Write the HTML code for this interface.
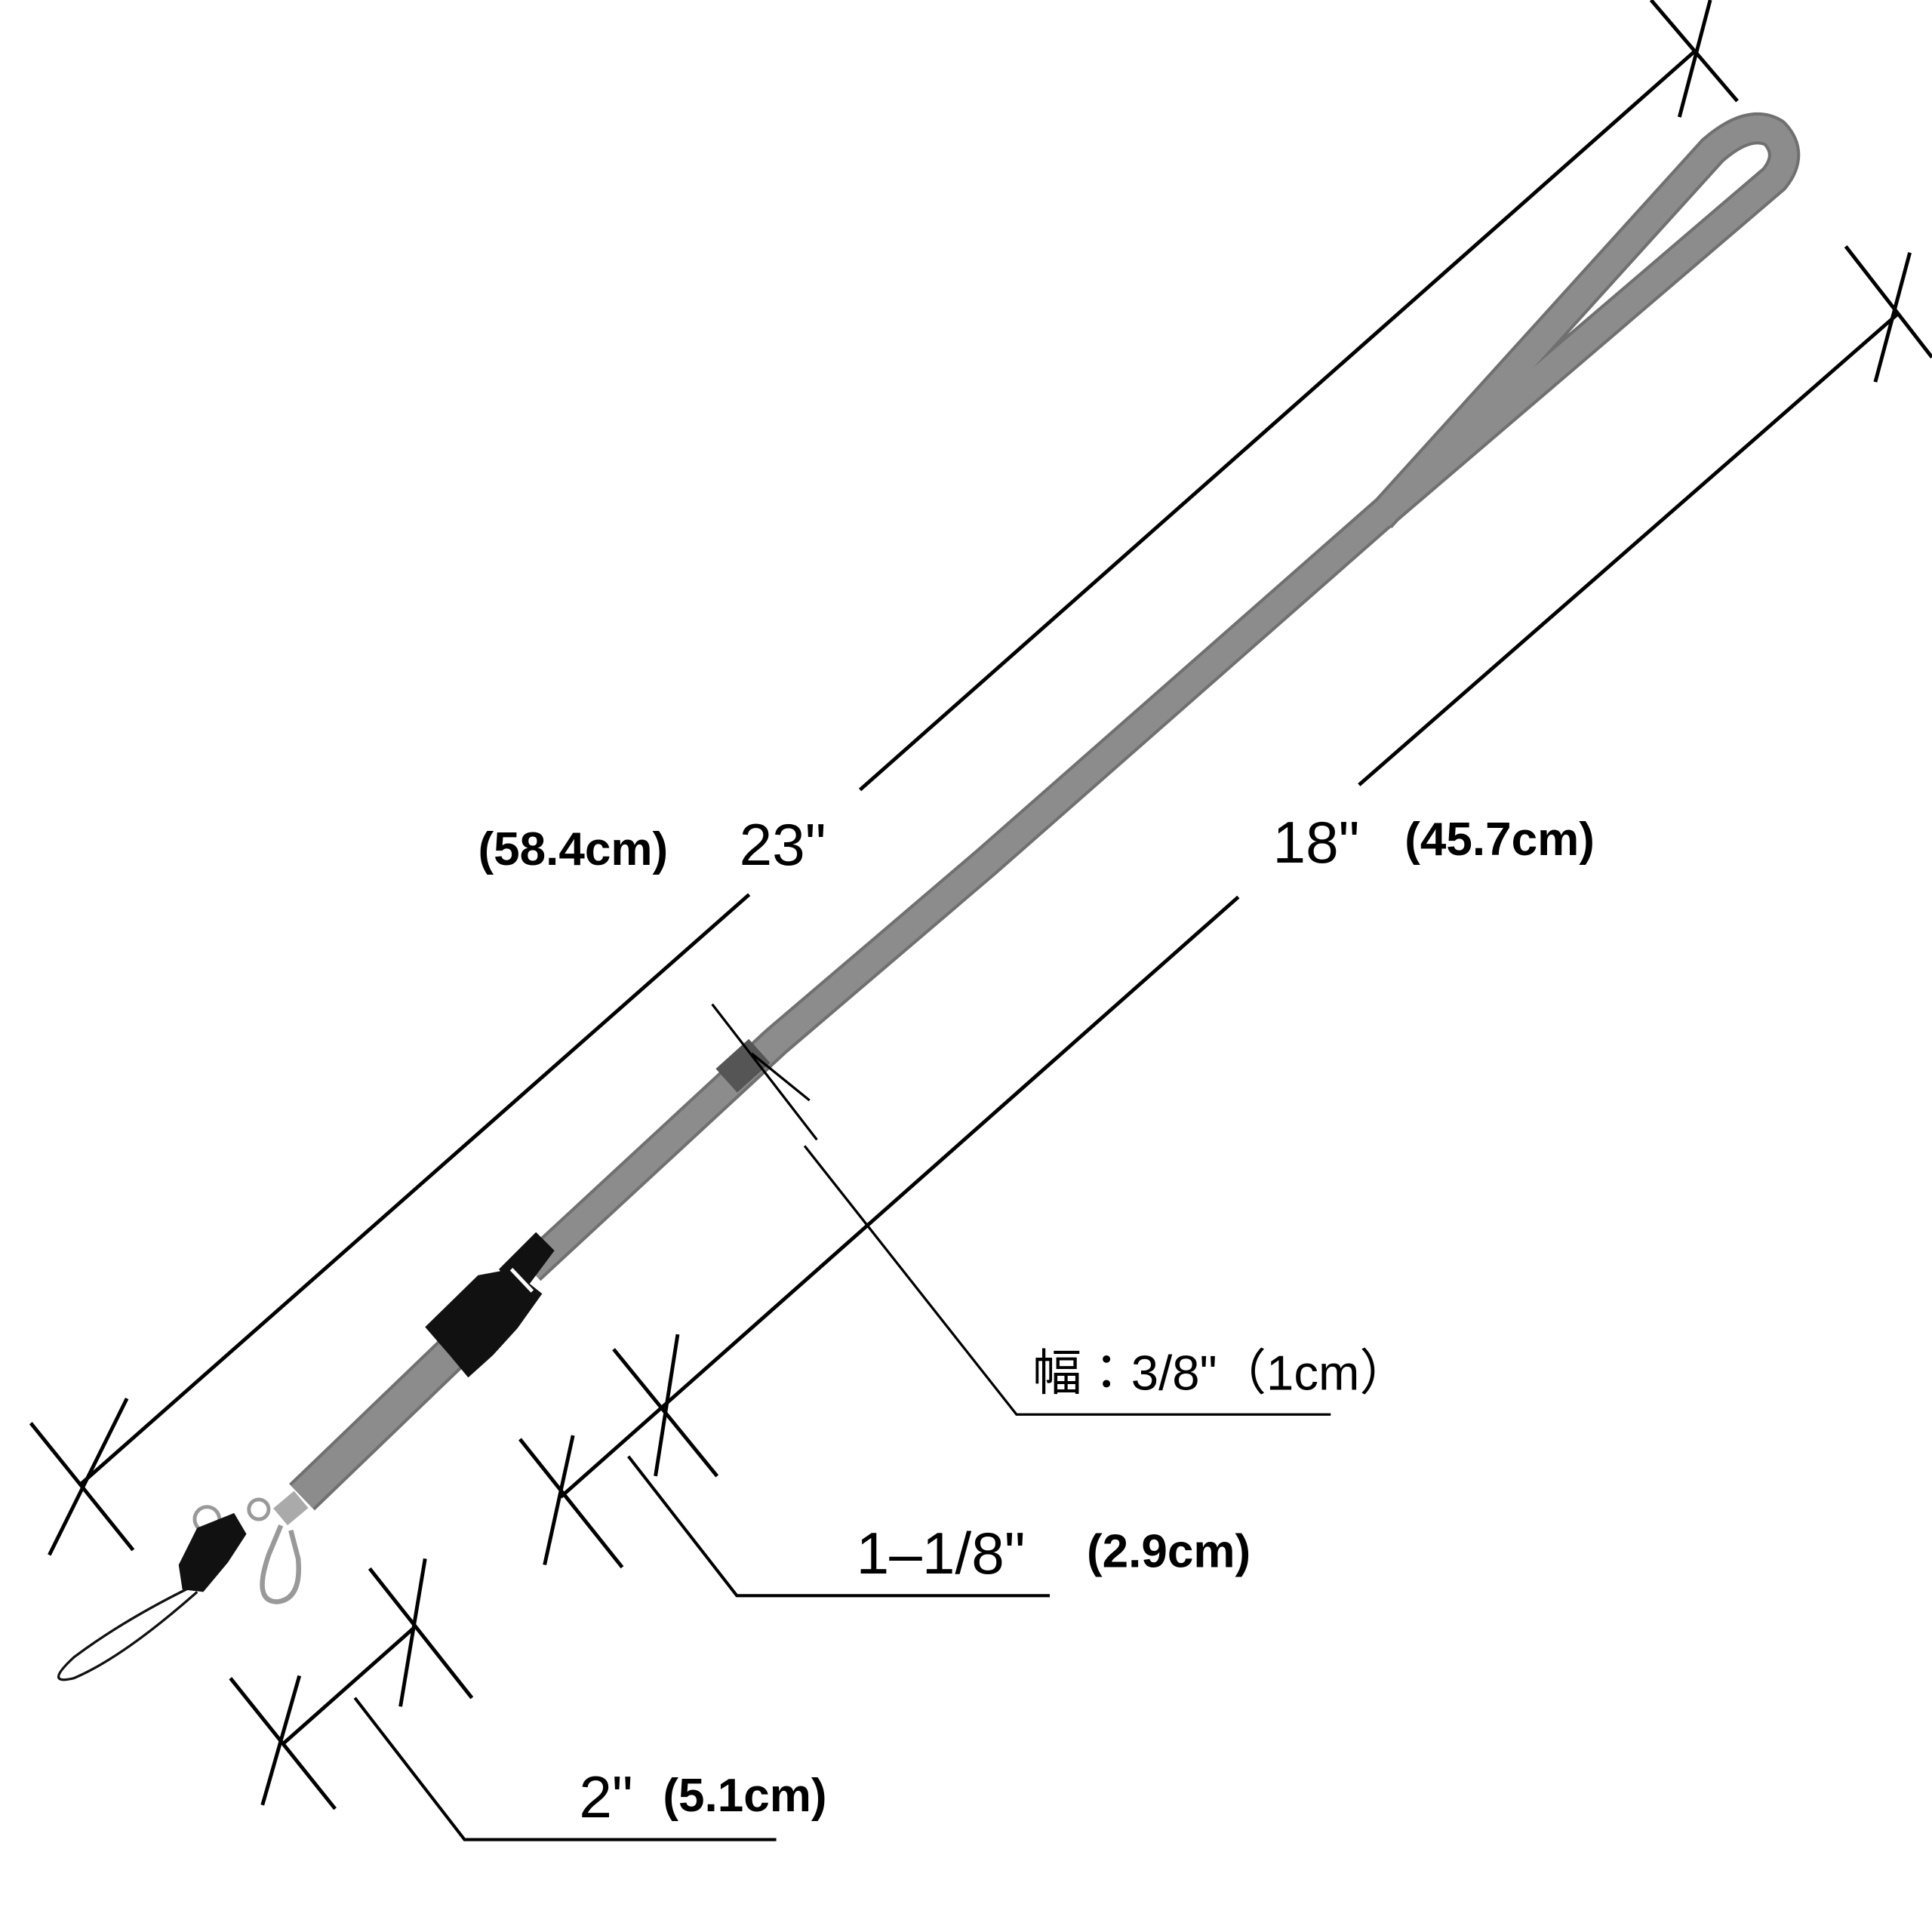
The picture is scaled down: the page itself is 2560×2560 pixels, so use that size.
<!DOCTYPE html>
<html><head><meta charset="utf-8"><style>html,body{margin:0;padding:0;background:#fff}svg{display:block}</style></head>
<body>
<svg width="2560" height="2560" viewBox="0 0 1568 1568" xmlns="http://www.w3.org/2000/svg">
<rect width="1568" height="1568" fill="#fff"/>
<g stroke="#000" stroke-width="3" fill="none">
<line x1="65" y1="1205" x2="608" y2="726"/>
<line x1="698" y1="641" x2="1375" y2="42"/>
<line x1="1340" y1="0" x2="1410" y2="82"/><line x1="1363" y1="95" x2="1388" y2="0"/>
<line x1="25" y1="1155" x2="108" y2="1258"/><line x1="40" y1="1262" x2="103" y2="1135"/>
<line x1="455" y1="1215" x2="1005" y2="728"/>
<line x1="1103" y1="637" x2="1540" y2="255"/>
<line x1="1498" y1="200" x2="1568" y2="290"/><line x1="1522" y1="310" x2="1550" y2="205"/>
<line x1="422" y1="1168" x2="505" y2="1272"/><line x1="442" y1="1270" x2="465" y2="1165"/>
<line x1="498" y1="1095" x2="582" y2="1198"/><line x1="532" y1="1198" x2="550" y2="1083"/>
<polyline points="510,1182 598,1295 852,1295" stroke-width="2.5"/>
<line x1="230" y1="1415" x2="335" y2="1322"/>
<line x1="300" y1="1273" x2="383" y2="1378"/><line x1="325" y1="1385" x2="345" y2="1265"/>
<line x1="187" y1="1362" x2="272" y2="1468"/><line x1="213" y1="1465" x2="243" y2="1360"/>
<polyline points="288,1378 377,1493 630,1493" stroke-width="2.5"/>
</g>
<g fill="none" stroke-linejoin="round">
<path d="M1120,420 L1390,122 Q1420,96 1440,108 Q1456,125 1440,145 L1130,410 L800,700 L630,845 L430,1030" stroke="#707070" stroke-width="26"/>
<path d="M1120,420 L1390,122 Q1420,96 1440,108 Q1456,125 1440,145 L1130,410 L800,700 L630,845 L430,1030" stroke="#8c8c8c" stroke-width="21"/>
<path d="M375,1090 L245,1215" stroke="#707070" stroke-width="30"/>
<path d="M375,1090 L245,1215" stroke="#8c8c8c" stroke-width="25"/>
</g>
<rect x="585" y="852" width="36" height="26" fill="#555" transform="rotate(-42 603 865)"/>
<g stroke="#000" fill="none">
<line x1="578" y1="815" x2="663" y2="925" stroke-width="2"/>
<line x1="610" y1="855" x2="657" y2="893" stroke-width="2"/>
<polyline points="653,930 825,1148 1080,1148" stroke-width="2"/>
</g>
<g fill="#111">
<polygon points="345,1077 388,1035 415,1030 440,1050 420,1078 400,1100 380,1118 365,1100"/>
<polygon points="405,1030 435,1000 450,1015 420,1055"/>
</g>
<line x1="415" y1="1030" x2="432" y2="1048" stroke="#fff" stroke-width="3"/>
<circle cx="168" cy="1233" r="10" fill="none" stroke="#999" stroke-width="3"/>
<polygon points="145,1270 160,1240 190,1228 200,1245 185,1268 165,1292 148,1290" fill="#111"/>
<path d="M155,1288 Q100,1315 60,1345 Q35,1368 60,1362 Q100,1345 160,1292" fill="none" stroke="#111" stroke-width="2"/>
<path d="M228,1238 L218,1262 Q205,1300 225,1300 Q245,1298 242,1265 L236,1242" fill="none" stroke="#999" stroke-width="4"/>
<circle cx="210" cy="1225" r="8" fill="none" stroke="#999" stroke-width="3"/>
<rect x="225" y="1215" width="22" height="18" fill="#aaa" transform="rotate(-40 236 1224)"/>
<g font-family="'Liberation Sans','Noto Sans CJK JP',sans-serif" fill="#000">
<text x="388" y="702" font-size="38" font-weight="bold">(58.4cm)</text>
<text x="600" y="702" font-size="48">23"</text>
<text x="1033" y="700" font-size="48">18"</text>
<text x="1140" y="694" font-size="38" font-weight="bold">(45.7cm)</text>
<text x="838" y="1128" font-size="40">幅：3/8"（1cm）</text>
<text x="695" y="1277" font-size="48">1–1/8"</text>
<text x="882" y="1272" font-size="38" font-weight="bold">(2.9cm)</text>
<text x="470" y="1475" font-size="48">2"</text>
<text x="538" y="1470" font-size="38" font-weight="bold">(5.1cm)</text>
</g>
</svg>
</body></html>
